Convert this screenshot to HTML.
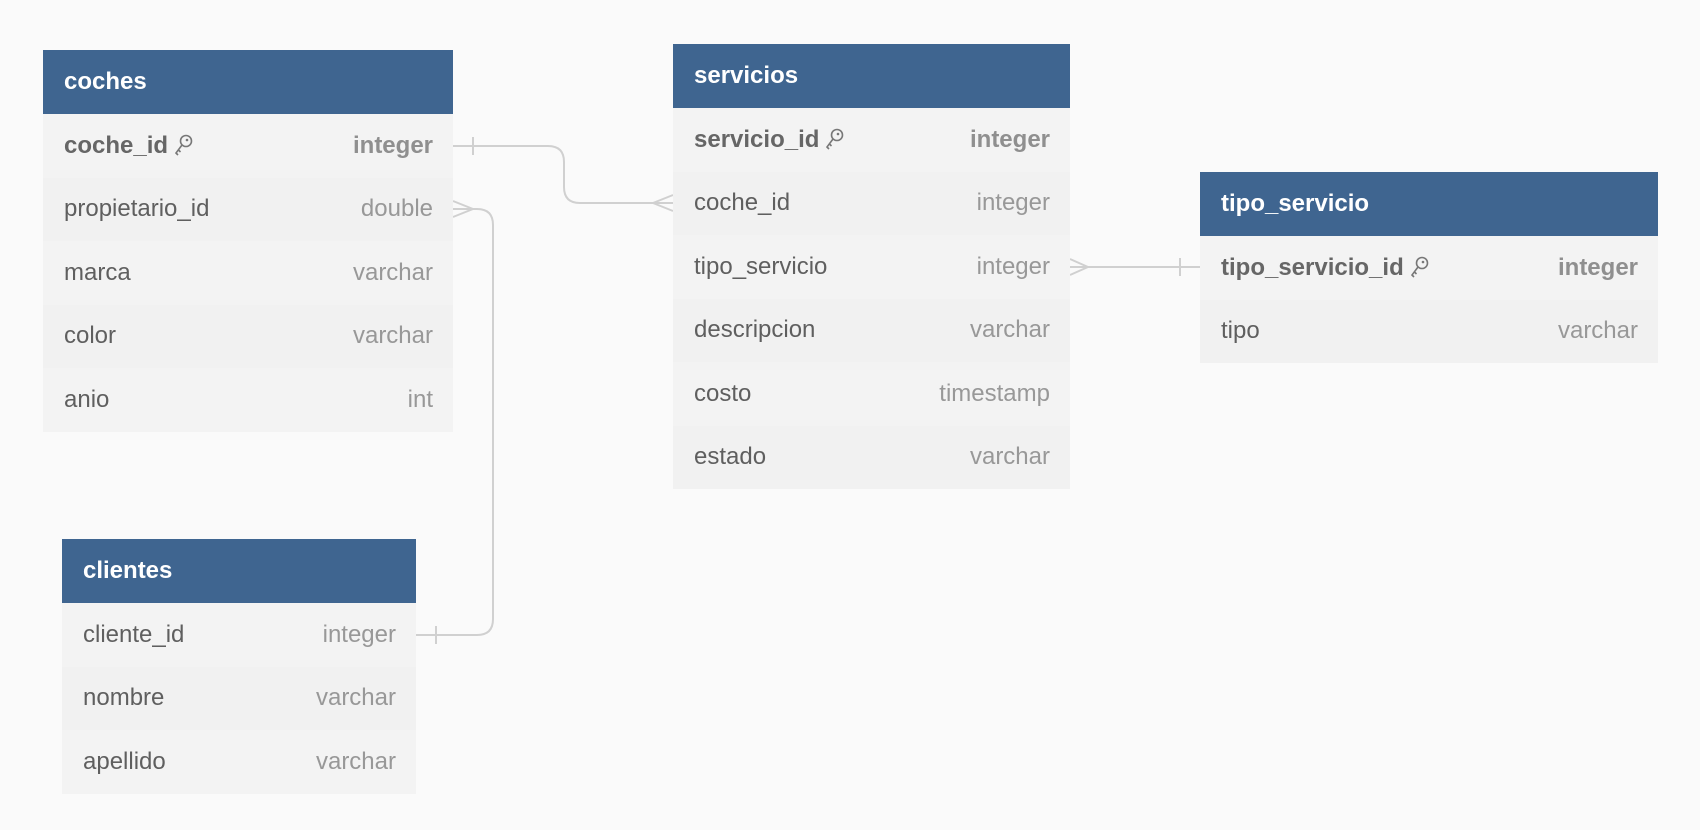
<!DOCTYPE html>
<html><head><meta charset="utf-8"><style>
body{margin:0;width:1700px;height:830px;background:#fafafa;position:relative;overflow:hidden;font-family:"Liberation Sans",sans-serif}
.t{position:absolute;background:#f3f3f3}
.h{height:64px;background:#3f6590;color:#fff;font-weight:bold;font-size:24px;line-height:64px;padding-left:21px;box-sizing:border-box}
.r{height:63.5px;display:flex;justify-content:space-between;align-items:center;padding:0 20px 0 21px;font-size:24px;color:#5f5f5f}
.r:nth-child(odd){background:#f1f1f1}
.r .ty{color:#989898}
.pk{font-weight:bold;color:#666}
.pk .ty{color:#8f8f8f}
svg.k{width:20px;height:22px;vertical-align:-3px;margin-left:6px}
</style></head><body>
<svg width="1700" height="830" style="position:absolute;left:0;top:0" fill="none" stroke="#d0d0d0" stroke-width="2">
<path d="M453 146 H548 Q564 146 564 162 V187 Q564 203 580 203 H673"/>
<path d="M473 137 V155"/>
<path d="M653 203 L673 195 M653 203 L673 211"/>
<path d="M453 209 H477 Q493 209 493 225 V619 Q493 635 477 635 H416"/>
<path d="M473 209 L453 201 M473 209 L453 217"/>
<path d="M436 626 V644"/>
<path d="M1070 267 H1200"/>
<path d="M1088 267 L1070 259 M1088 267 L1070 275"/>
<path d="M1180 258 V276"/>
</svg>

<div class="t" style="left:43px;top:50px;width:410px">
<div class="h">coches</div>
<div class="r pk"><span>coche_id<svg class="k" viewBox="0 0 20 22"><circle cx="12" cy="7" r="5.5" stroke="#777" stroke-width="1.6" fill="none"/><circle cx="13" cy="6" r="1.3" fill="#777"/><path d="M8 11 L2 19 L4 21 M4.5 16 L6.5 18" stroke="#777" stroke-width="1.6" fill="none"/></svg></span><span class="ty">integer</span></div>
<div class="r"><span>propietario_id</span><span class="ty">double</span></div>
<div class="r"><span>marca</span><span class="ty">varchar</span></div>
<div class="r"><span>color</span><span class="ty">varchar</span></div>
<div class="r"><span>anio</span><span class="ty">int</span></div>
</div>

<div class="t" style="left:673px;top:44px;width:397px">
<div class="h">servicios</div>
<div class="r pk"><span>servicio_id<svg class="k" viewBox="0 0 20 22"><circle cx="12" cy="7" r="5.5" stroke="#777" stroke-width="1.6" fill="none"/><circle cx="13" cy="6" r="1.3" fill="#777"/><path d="M8 11 L2 19 L4 21 M4.5 16 L6.5 18" stroke="#777" stroke-width="1.6" fill="none"/></svg></span><span class="ty">integer</span></div>
<div class="r"><span>coche_id</span><span class="ty">integer</span></div>
<div class="r"><span>tipo_servicio</span><span class="ty">integer</span></div>
<div class="r"><span>descripcion</span><span class="ty">varchar</span></div>
<div class="r"><span>costo</span><span class="ty">timestamp</span></div>
<div class="r"><span>estado</span><span class="ty">varchar</span></div>
</div>

<div class="t" style="left:1200px;top:172px;width:458px">
<div class="h">tipo_servicio</div>
<div class="r pk"><span>tipo_servicio_id<svg class="k" viewBox="0 0 20 22"><circle cx="12" cy="7" r="5.5" stroke="#777" stroke-width="1.6" fill="none"/><circle cx="13" cy="6" r="1.3" fill="#777"/><path d="M8 11 L2 19 L4 21 M4.5 16 L6.5 18" stroke="#777" stroke-width="1.6" fill="none"/></svg></span><span class="ty">integer</span></div>
<div class="r"><span>tipo</span><span class="ty">varchar</span></div>
</div>

<div class="t" style="left:62px;top:539px;width:354px">
<div class="h">clientes</div>
<div class="r"><span>cliente_id</span><span class="ty">integer</span></div>
<div class="r"><span>nombre</span><span class="ty">varchar</span></div>
<div class="r"><span>apellido</span><span class="ty">varchar</span></div>
</div>
</body></html>
